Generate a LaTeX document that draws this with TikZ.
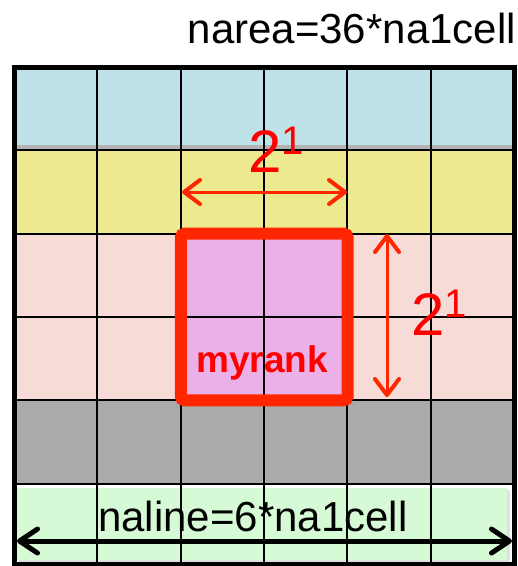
\documentclass[tikz,border=0pt]{standalone}
\usepackage{fontspec}
\setmainfont{Liberation Sans}
\usetikzlibrary{positioning, arrows.meta}
\definecolor{rowblue}{HTML}{BDE3E8}
\definecolor{rowyellow}{HTML}{EDE98F}
\definecolor{rowpink}{HTML}{F6DBD6}
\definecolor{rowgray}{HTML}{AAAAAA}
\definecolor{rowgreen}{HTML}{D5FAD5}
\definecolor{rankpurple}{HTML}{EBB0E8}
\definecolor{rankred}{HTML}{FF2600}
\tikzset{
    gridline/.style = {draw=black, line width=2pt},
    frame/.style = {draw=black, line width=5pt},
    rankbox/.style = {rectangle, draw=rankred, line width=12pt, rounded corners=4pt,
                        minimum width=166.7pt, minimum height=166.7pt, inner sep=0pt},
    redarrow/.style = {draw=rankred, line width=3pt,
                        {Straight Barb[length=16pt, width=24pt, line width=4pt, round]}-{Straight Barb[length=16pt, width=24pt, line width=4pt, round]}},
    blackarrow/.style = {draw=black, line width=5pt,
                        {Straight Barb[length=18pt, width=24pt, line width=5pt, round]}-{Straight Barb[length=18pt, width=24pt, line width=5pt, round]}},
    label/.style = {inner sep=0pt, font=\fontsize{42}{50}\selectfont},
    power/.style = {inner sep=0pt, text=red, font=\fontsize{60}{60}\selectfont}
}
\newcommand{\twoone}{2\raisebox{18pt}{\fontsize{40}{40}\selectfont 1}}

\begin{document}
\begin{tikzpicture}[x=1pt, y=-1pt]
		\useasboundingbox (0,0) rectangle (518,566);
		% rows
		\fill[rowblue] (14,67) rectangle (514,145);
		\fill[black!30] (14,145) rectangle (514,150);
		\fill[rowyellow] (14,150) rectangle (514,233.7);
		\fill[rowpink] (14,233.7) rectangle (514,400.3);
		\fill[rowgray] (14,400.3) rectangle (514,483.7);
		\fill[black!12] (19,490) rectangle (510,562);
		\fill[rowgreen] (17,488) rectangle (507,560);
		\fill[rankpurple] (181,233.7) rectangle (347.3,400.3);
		% grid
		\foreach \i in {1,...,5} {
			\draw[gridline] (14+83.33*\i,67) -- (14+83.33*\i,564);
			\draw[gridline] (14,67+83.33*\i) -- (514,67+83.33*\i);
		}
		\draw[frame] (14,67) rectangle (514,564);
		\node (rank) [rankbox] at (264.2,317) {};
		\node (myrank) [inner sep=0pt, anchor=base, text=red, font=\fontsize{37}{37}\selectfont\bfseries] at (262,372) {myrank};
		% sizes
		\node (narea) [label, anchor=base east] at (516,43) {narea=36*na1cell};
		\node (naline) [label, anchor=base] at (253,531) {naline=6*na1cell};
		\coordinate (hl) at (182,192);
		\coordinate (hr) at (347,192);
		\coordinate (vt) at (387,234);
		\coordinate (vb) at (387,397);
		\coordinate (bl) at (17,541);
		\coordinate (br) at (512,541);
		\draw [redarrow] (hl) -- (hr);
		\draw [redarrow] (vt) -- (vb);
		\draw [blackarrow] (bl) -- (br);
		\node (xpow) [power, anchor=base west] at (248,172) {\twoone};
		\node (ypow) [power, anchor=base west] at (411,335) {\twoone};
	\end{tikzpicture}
\end{document}
